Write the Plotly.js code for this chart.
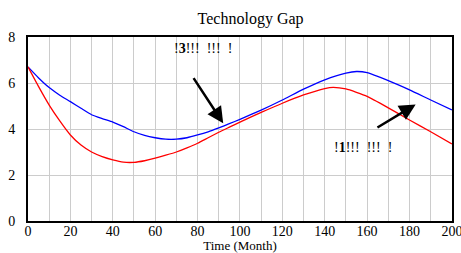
<!DOCTYPE html>
<html>
<head>
<meta charset="utf-8">
<script src="https://cdn.plot.ly/plotly-3.0.1.min.js"></script>
<style>html,body{margin:0;padding:0;background:#fff;}#chart{width:461px;height:253px;}</style>
</head>
<body>
<div id="chart"></div>
<script>
// Time (Month)
const timeBlue = [0, 5, 10, 15, 20, 25, 30, 35, 40, 45, 50, 55, 60, 65, 70, 75, 80, 85, 90, 95, 100, 110, 120, 130, 140, 150, 155, 160, 170, 180, 190, 200];
const gapBlue  = [6.7, 6.22, 5.8, 5.47, 5.19, 4.9, 4.62, 4.45, 4.3, 4.1, 3.88, 3.72, 3.62, 3.56, 3.56, 3.62, 3.74, 3.88, 4.05, 4.23, 4.42, 4.82, 5.26, 5.73, 6.14, 6.43, 6.5, 6.45, 6.1, 5.7, 5.26, 4.83];
const timeRed  = [0, 5, 10, 15, 20, 25, 30, 35, 40, 45, 50, 55, 60, 65, 70, 75, 80, 85, 90, 95, 100, 110, 120, 130, 140, 144, 150, 160, 170, 180, 190, 200];
const gapRed   = [6.7, 5.84, 5.04, 4.35, 3.74, 3.3, 3.0, 2.8, 2.66, 2.56, 2.55, 2.62, 2.73, 2.86, 3.0, 3.18, 3.38, 3.62, 3.86, 4.08, 4.3, 4.72, 5.12, 5.48, 5.76, 5.81, 5.74, 5.42, 4.92, 4.39, 3.88, 3.35];
const xTicks = [0, 20, 40, 60, 80, 100, 120, 140, 160, 180, 200];
const yTicks = [0, 2, 4, 6, 8];
const labels = ["!<b>3</b>!!!  !!!  !", "!<b>1</b>!!!  !!!  !"];

const font = 'Liberation Serif, DejaVu Serif, serif';

const traces = [
  {x: timeBlue, y: gapBlue, type: 'scatter', mode: 'lines', line: {color: '#0000ff', width: 1.3, shape: 'spline', smoothing: 0.5}, hoverinfo: 'skip'},
  {x: timeRed, y: gapRed, type: 'scatter', mode: 'lines', line: {color: '#ff0000', width: 1.3, shape: 'spline', smoothing: 0.5}, hoverinfo: 'skip'}
];

const layout = {
  width: 461, height: 253,
  margin: {l: 28, r: 9, t: 37, b: 32},
  paper_bgcolor: '#fff', plot_bgcolor: '#fff',
  showlegend: false,
  font: {family: font, size: 13, color: '#000'},
  title: {text: 'Technology Gap', font: {family: font, size: 16, color: '#000'}, x: 0.525, xref: 'paper', y: 1 - 18/253, yref: 'container', yanchor: 'middle'},
  xaxis: {
    range: [0, 200.05], tickvals: xTicks, ticks: '', showgrid: true, gridcolor: '#cccccc', gridwidth: 1,
    minor: {dtick: 10, showgrid: true, gridcolor: '#cccccc', gridwidth: 1, ticks: ''},
    showline: true, linecolor: '#000', linewidth: 2, mirror: true, zeroline: false,
    tickfont: {family: font, size: 14}, ticklabelstandoff: -4, ticklabeloverflow: 'allow',
    title: {text: 'Time (Month)', font: {family: font, size: 13}, standoff: 3}
  },
  yaxis: {
    range: [0, 8], tickvals: yTicks, ticks: '', showgrid: true, gridcolor: '#cccccc', gridwidth: 1,
    showline: true, linecolor: '#000', linewidth: 2, mirror: true, zeroline: false,
    tickfont: {family: font, size: 14}, ticklabelstandoff: 8
  },
  annotations: [
    {x: 92.1, y: 4.25, xref: 'x', yref: 'y', ax: -30.6, ay: -46.6, showarrow: true, arrowhead: 2, arrowsize: 1.3, arrowwidth: 2.5, arrowcolor: '#000', text: ''},
    {x: 182.9, y: 5.07, xref: 'x', yref: 'y', ax: -39.7, ay: 24, showarrow: true, arrowhead: 2, arrowsize: 1.3, arrowwidth: 2.5, arrowcolor: '#000', text: ''},
    {x: 82.5, y: 7.5, xref: 'x', yref: 'y', text: labels[0], showarrow: false, font: {family: font, size: 14, color: '#000'}},
    {x: 158, y: 3.2, xref: 'x', yref: 'y', text: labels[1], showarrow: false, font: {family: font, size: 14, color: '#000'}}
  ]
};

Plotly.newPlot('chart', traces, layout, {staticPlot: true, displayModeBar: false});
</script>
</body>
</html>
